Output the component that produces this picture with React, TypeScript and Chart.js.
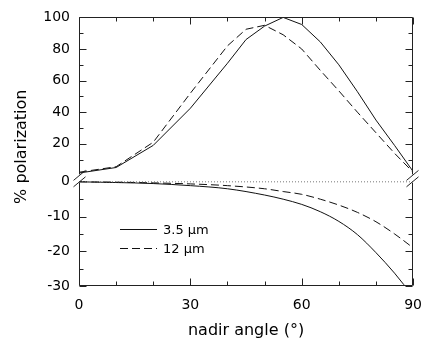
import React, { useEffect, useRef } from 'react';
import { Chart, registerables } from 'chart.js';

Chart.register(...registerables);

// ---- data ----
const upperAngles = [0, 10, 20, 30, 40, 45, 50, 55, 60, 65, 70, 75, 80, 85, 90];
const upper35 = [1.5, 5, 19, 42.5, 71, 86, 94.5, 100, 95.5, 84.5, 70, 53, 35, 19, 2.5];
const upper12 = [2, 5.5, 21, 52, 82, 92.5, 95, 89, 80, 66.5, 53.5, 40, 27, 14, 2];

const lowerAngles = [0, 10, 20, 30, 40, 50, 55, 60, 65, 70, 75, 80, 85, 90];
const lower35 = [0, -0.2, -0.5, -1.1, -2, -3.8, -5.0, -6.5, -8.6, -11.4, -15.2, -20.4, -26.3, -33];
const lower12 = [0, -0.1, -0.3, -0.6, -1.1, -2, -2.8, -3.6, -5, -6.7, -8.8, -11.5, -15, -19];

const zeroAngles = [0, 90];
const zeroValues = [0, 0];

const xTickValues = [0, 30, 60, 90];
const upperTickValues = [20, 40, 60, 80, 100];
const lowerTickValues = [0, -10, -20, -30];

const legendLabels = ['3.5 \u00b5m', '12 \u00b5m'];
const xTitle = 'nadir angle (\u00b0)';
const yTitle = '% polarization';

const FONT = '"DejaVu Sans", "Liberation Sans", sans-serif';
const INK = '#111';
const DASH = [8, 4];

const toXY = (xs: number[], ys: number[]) => xs.map((x, i) => ({ x, y: ys[i] }));

const decorPlugin = {
  id: 'decor',
  afterDatasetsDraw(chart: any) {
    const { ctx, chartArea: a, scales } = chart;
    const sx = scales.x;
    const yt = scales.yTop;
    const yb = scales.yBot;
    const L = Math.round(a.left) + 0.5;
    const R = Math.round(a.right) - 0.5;
    const T = Math.round(a.top) + 0.5;
    const B = Math.round(a.bottom) - 0.5;
    const g1 = yt.getPixelForValue(0);
    const g2 = yb.getPixelForValue(0);
    const line = (x1: number, y1: number, x2: number, y2: number) => {
      ctx.beginPath();
      ctx.moveTo(x1, y1);
      ctx.lineTo(x2, y2);
      ctx.stroke();
    };
    ctx.save();
    ctx.strokeStyle = '#222';
    ctx.lineWidth = 1;
    ctx.setLineDash([]);
    // frame
    line(L, T, R, T);
    line(L, B, R, B);
    line(L, T, L, g1 - 1);
    line(L, g2 + 1, L, B);
    line(R, T, R, g1 - 1);
    line(R, g2 + 1, R, B);
    // x ticks (inward)
    for (let v = 0; v <= 90; v += 10) {
      const px = Math.round(sx.getPixelForValue(v)) + 0.5;
      const len = v % 30 === 0 ? 7 : 4;
      line(px, B, px, B - len);
      line(px, T, px, T + len);
    }
    // upper y ticks
    for (let v = 10; v <= 100; v += 10) {
      const py = Math.round(yt.getPixelForValue(v)) + 0.5;
      const len = v % 20 === 0 ? 7 : 4;
      line(L, py, L + len, py);
      line(R, py, R - len, py);
    }
    // lower y ticks
    for (let v = -5; v >= -30; v -= 5) {
      const py = Math.round(yb.getPixelForValue(v)) + 0.5;
      const len = v % 10 === 0 ? 7 : 4;
      line(L, py, L + len, py);
      line(R, py, R - len, py);
    }
    // break marks
    for (const xx of [L, R]) {
      for (const y0 of [g1, g2]) {
        line(xx - 6, y0 + 5, xx + 6, y0 - 5);
      }
    }
    // legend
    const lx1 = a.left + 41;
    const lx2 = a.left + 78;
    const ly1 = Math.round(yb.getPixelForValue(-13.5)) + 0.5;
    const ly2 = Math.round(yb.getPixelForValue(-19.2)) + 0.5;
    ctx.strokeStyle = INK;
    line(lx1, ly1, lx2, ly1);
    ctx.setLineDash(DASH);
    line(lx1, ly2, lx2, ly2);
    ctx.setLineDash([]);
    ctx.fillStyle = '#000';
    ctx.font = '13px ' + FONT;
    ctx.textAlign = 'left';
    ctx.textBaseline = 'middle';
    ctx.fillText(legendLabels[0], lx2 + 6, ly1 + 1);
    ctx.fillText(legendLabels[1], lx2 + 6, ly2 + 1);
    // y title
    ctx.save();
    ctx.translate(22, (a.top + a.bottom) / 2 - 5);
    ctx.rotate(-Math.PI / 2);
    ctx.font = '16px ' + FONT;
    ctx.textAlign = 'center';
    ctx.textBaseline = 'middle';
    ctx.fillText(yTitle, 0, 0);
    ctx.restore();
    ctx.restore();
  },
};

export default function App() {
  const ref = useRef<HTMLCanvasElement | null>(null);
  useEffect(() => {
    if (!ref.current) return;
    const tickFont = { family: FONT, size: 14 };
    const chart = new Chart(ref.current, {
      type: 'line',
      data: {
        datasets: [
          {
            data: toXY(zeroAngles, zeroValues),
            yAxisID: 'yBot',
            borderColor: '#777',
            borderWidth: 1,
            borderDash: [1, 2],
            pointRadius: 0,
          },
          {
            data: toXY(upperAngles, upper35),
            yAxisID: 'yTop',
            borderColor: INK,
            borderWidth: 1,
            pointRadius: 0,
          },
          {
            data: toXY(upperAngles, upper12),
            yAxisID: 'yTop',
            borderColor: INK,
            borderWidth: 1,
            borderDash: DASH,
            pointRadius: 0,
          },
          {
            data: toXY(lowerAngles, lower35),
            yAxisID: 'yBot',
            borderColor: INK,
            borderWidth: 1,
            pointRadius: 0,
            cubicInterpolationMode: 'monotone',
          },
          {
            data: toXY(lowerAngles, lower12),
            yAxisID: 'yBot',
            borderColor: INK,
            borderWidth: 1,
            borderDash: DASH,
            pointRadius: 0,
            cubicInterpolationMode: 'monotone',
          },
        ],
      } as any,
      options: {
        animation: false,
        responsive: false,
        layout: { padding: { left: 0, right: 12, top: 14, bottom: 0 } },
        plugins: { legend: { display: false }, tooltip: { enabled: false } },
        scales: {
          x: {
            type: 'linear',
            position: 'bottom',
            min: 0,
            max: 90,
            grid: { display: false, drawTicks: false },
            border: { display: false },
            afterBuildTicks: (s: any) => {
              s.ticks = xTickValues.map((v) => ({ value: v }));
            },
            ticks: { font: tickFont, color: '#000', padding: 11, maxRotation: 0 },
            title: {
              display: true,
              text: xTitle,
              color: '#000',
              font: { family: FONT, size: 16 },
              padding: { top: 0, bottom: 3 },
            },
            afterFit: (s: any) => {
              s.height = 57;
            },
          },
          yTop: {
            type: 'linear',
            position: 'left',
            stack: 'y',
            stackWeight: 160,
            weight: 2,
            min: 0,
            max: 100,
            grid: { display: false, drawTicks: false },
            border: { display: false },
            afterBuildTicks: (s: any) => {
              s.ticks = upperTickValues.map((v) => ({ value: v }));
            },
            ticks: { font: tickFont, color: '#000', padding: 9 },
            afterFit: (s: any) => {
              s.width = 79;
            },
          },
          yBot: {
            type: 'linear',
            position: 'left',
            stack: 'y',
            stackWeight: 112,
            weight: 1,
            min: -30,
            max: 1.85,
            grid: { display: false, drawTicks: false },
            border: { display: false },
            afterBuildTicks: (s: any) => {
              s.ticks = lowerTickValues.map((v) => ({ value: v }));
            },
            ticks: { font: tickFont, color: '#000', padding: 9 },
            afterFit: (s: any) => {
              s.width = 79;
            },
          },
        },
      } as any,
      plugins: [decorPlugin],
    });
    return () => chart.destroy();
  }, []);
  return (
    <div style={{ position: 'fixed', left: 0, top: 0, width: 433, height: 343, background: '#fff' }}>
      <canvas ref={ref} width={433} height={343} />
    </div>
  );
}
